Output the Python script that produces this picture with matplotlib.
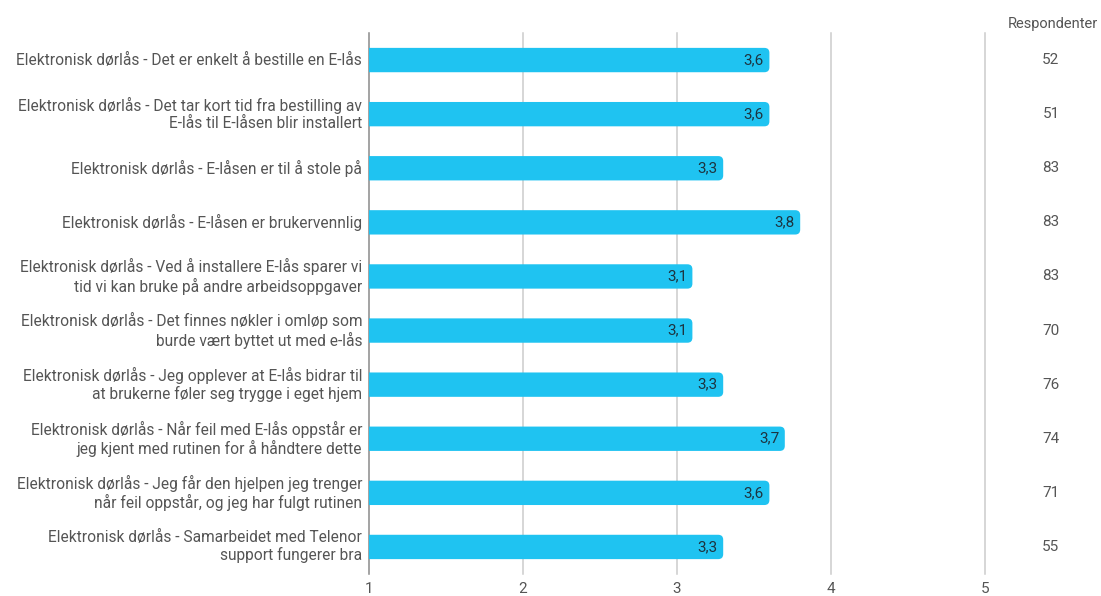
import matplotlib.pyplot as plt
from matplotlib.patches import FancyBboxPatch

plt.rcParams['font.family'] = ['Roboto', 'DejaVu Sans']

# Survey statements, mean scores (1-5) and number of respondents
labels = [
    "Elektronisk dørlås - Det er enkelt å bestille en E-lås",
    "Elektronisk dørlås - Det tar kort tid fra bestilling av\nE-lås til E-låsen blir installert",
    "Elektronisk dørlås - E-låsen er til å stole på",
    "Elektronisk dørlås - E-låsen er brukervennlig",
    "Elektronisk dørlås - Ved å installere E-lås sparer vi\ntid vi kan bruke på andre arbeidsoppgaver",
    "Elektronisk dørlås - Det finnes nøkler i omløp som\nburde vært byttet ut med e-lås",
    "Elektronisk dørlås - Jeg opplever at E-lås bidrar til\nat brukerne føler seg trygge i eget hjem",
    "Elektronisk dørlås - Når feil med E-lås oppstår er\njeg kjent med rutinen for å håndtere dette",
    "Elektronisk dørlås - Jeg får den hjelpen jeg trenger\nnår feil oppstår, og jeg har fulgt rutinen",
    "Elektronisk dørlås - Samarbeidet med Telenor\nsupport fungerer bra",
]
scores = [3.6, 3.6, 3.3, 3.8, 3.1, 3.1, 3.3, 3.7, 3.6, 3.3]
respondents = [52, 51, 83, 83, 83, 70, 76, 74, 71, 55]
xticks = [1, 2, 3, 4, 5]

bar_color = '#1fc3f1'
text_color = '#555555'

fig = plt.figure(figsize=(11.01, 5.96), dpi=100)
ax = fig.add_axes([369 / 1101, 22 / 596, (985 - 369) / 1101, 541 / 596])

n = len(labels)
ax.set_xlim(1, 5)
ax.set_ylim(n - 0.5, -0.5)

# px-per-unit to keep the corner rounding circular
px_x = (985 - 369) / 4
px_y = 541 / n
r = 5 / px_x
aspect = px_x / px_y
h = 0.45

for i, v in enumerate(scores):
    # start left of the axis so only the right end shows rounded corners
    box = FancyBboxPatch((0.9, i - h / 2), v - 0.9, h,
                         boxstyle=f"round,pad=0,rounding_size={r}",
                         mutation_aspect=aspect, fc=bar_color, ec='none', zorder=3)
    ax.add_patch(box)
    ax.text(v - 0.035, i, f"{v:.1f}".replace('.', ','), ha='right', va='center',
            fontsize=11, color='#1d3440', zorder=4)
    ax.text(-0.011, i, labels[i], transform=ax.get_yaxis_transform(),
            ha='right', va='center', fontsize=11.2, color=text_color,
            linespacing=1.15)
    ax.text(1.107, i, str(respondents[i]), transform=ax.get_yaxis_transform(),
            ha='center', va='center', fontsize=11, color=text_color)

ax.text(1.11, 1.004, "Respondenter", transform=ax.transAxes, ha='center',
        va='bottom', fontsize=10.5, color=text_color)

for t in xticks:
    ax.axvline(t, color='#8a8a8a' if t == 1 else '#cccccc', lw=1.1,
               zorder=1, clip_on=False)

ax.set_xticks(xticks)
ax.set_xticklabels([str(t) for t in xticks], fontsize=11, color=text_color)
ax.tick_params(axis='x', length=0, pad=6)
ax.set_yticks([])
for s in ax.spines.values():
    s.set_visible(False)

fig.savefig('out.png', dpi=100)
